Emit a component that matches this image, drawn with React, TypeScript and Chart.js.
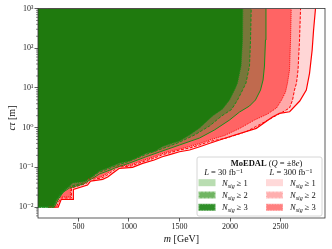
import React, { useEffect, useRef } from 'react';
import { Chart, registerables } from 'chart.js';

Chart.register(...registerables);

// ---- axes ----
const massMin = 100;
const massMax = 2940;
const ctauMin = 0.0053;
const ctauMax = 1000;
const massTicks = [500, 1000, 1500, 2000, 2500];
const ctauTicks = [0.01, 0.1, 1, 10, 100, 1000];
const ctauTickLabels = ['10⁻²', '10⁻¹', '10⁰', '10¹', '10²', '10³'];

// ---- L = 30 fb^-1 ----
const g3Mass = [100, 252, 282, 342, 391, 441, 559, 639, 708, 787, 906, 1005, 1074, 1173, 1252, 1332, 1431, 1500, 1599, 1698, 1827, 1926, 1995, 2054, 2074, 2109, 2124, 2127];
const g3Ctau = [0.01, 0.01, 0.015, 0.0225, 0.0301, 0.0403, 0.0439, 0.0587, 0.0807, 0.096, 0.128, 0.144, 0.172, 0.229, 0.25, 0.334, 0.409, 0.46, 0.651, 0.977, 1.958, 2.94, 4.96, 9.93, 13.3, 35.6, 161, 1000];

const g2Mass = [100, 252, 292, 342, 401, 540, 619, 698, 777, 876, 995, 1153, 1292, 1480, 1648, 1797, 1916, 2015, 2074, 2124, 2158, 2193, 2203, 2210];
const g2Ctau = [0.01, 0.01, 0.0169, 0.0253, 0.0319, 0.0403, 0.0537, 0.074, 0.0881, 0.111, 0.14, 0.204, 0.273, 0.409, 0.651, 1.097, 1.958, 2.86, 4.96, 8.85, 13.3, 35.6, 161, 1000];

const g1Mass = [100, 262, 302, 351, 411, 549, 629, 708, 787, 886, 1005, 1163, 1302, 1500, 1698, 1846, 1995, 2094, 2193, 2252, 2302, 2327, 2341, 2351, 2356];
const g1Ctau = [0.01, 0.01, 0.0159, 0.0239, 0.0301, 0.038, 0.0507, 0.0678, 0.0807, 0.1019, 0.128, 0.182, 0.243, 0.365, 0.547, 0.871, 1.552, 2.47, 3.5, 4.96, 8.85, 15.8, 35.6, 161, 1000];

// ---- L = 300 fb^-1 ----
const r3Mass = [200, 272, 312, 421, 421, 569, 599, 718, 767, 837, 886, 1015, 1114, 1233, 1312, 1401, 1500, 1599, 1698, 1797, 1945, 2094, 2242, 2371, 2460, 2510, 2549, 2569, 2589, 2599, 2606];
const r3Ctau = [0.01, 0.0106, 0.0179, 0.0179, 0.0319, 0.0414, 0.0522, 0.057, 0.0659, 0.0881, 0.108, 0.114, 0.144, 0.177, 0.216, 0.25, 0.289, 0.334, 0.397, 0.487, 0.633, 0.949, 1.552, 2.2, 3.12, 4.96, 7.89, 13.3, 28.2, 161, 1000];

const r2Mass = [200, 282, 322, 431, 431, 579, 609, 728, 777, 846, 896, 1025, 1124, 1242, 1322, 1411, 1500, 1599, 1698, 1797, 1965, 2163, 2341, 2520, 2589, 2619, 2638, 2658, 2673, 2688, 2698];
const r2Ctau = [0.01, 0.01, 0.0169, 0.0169, 0.0301, 0.0391, 0.0493, 0.0537, 0.0621, 0.083, 0.1019, 0.108, 0.136, 0.167, 0.204, 0.236, 0.273, 0.306, 0.365, 0.447, 0.547, 0.798, 1.383, 2.47, 3.12, 4.96, 8.85, 13.3, 28.2, 161, 1000];

const r1Mass = [200, 300, 330, 450, 450, 590, 620, 740, 790, 855, 905, 1035, 1135, 1250, 1330, 1420, 1500, 1600, 1700, 1800, 1995, 2260, 2420, 2490, 2590, 2690, 2755, 2787, 2813, 2827, 2846];
const r1Ctau = [0.01, 0.01, 0.0156, 0.0156, 0.0279, 0.0358, 0.0452, 0.0499, 0.057, 0.0762, 0.0944, 0.1, 0.126, 0.153, 0.185, 0.216, 0.247, 0.273, 0.33, 0.403, 0.59, 0.96, 1.85, 2.29, 2.51, 4.68, 8.85, 23.3, 90, 287, 1000];

const lumiLabels = ['L = 30 fb⁻¹', 'L = 300 fb⁻¹'];
const nsigLabels = ['1', '2', '3'];

const SERIF = "'Liberation Serif', 'DejaVu Serif', serif";
const GREEN_LINE = '#1a8c1a';
const RED_LINE = '#ff0000';

type Part = { t: string; f: string; dy?: number };

function richWidth(ctx: CanvasRenderingContext2D, parts: Part[]) {
  let w = 0;
  for (const p of parts) {
    ctx.font = p.f;
    w += ctx.measureText(p.t).width;
  }
  return w;
}

function drawRich(ctx: CanvasRenderingContext2D, parts: Part[], x: number, y: number, align: 'left' | 'center') {
  const w = richWidth(ctx, parts);
  let cx = align === 'center' ? x - w / 2 : x;
  ctx.textAlign = 'left';
  ctx.textBaseline = 'alphabetic';
  for (const p of parts) {
    ctx.font = p.f;
    ctx.fillText(p.t, cx, y + (p.dy || 0));
    cx += ctx.measureText(p.t).width;
  }
}

const decorPlugin = {
  id: 'decor',
  afterDraw(chart: any) {
    const { ctx, chartArea: a, scales } = chart;
    const y = scales.y;
    ctx.save();
    // frame
    ctx.strokeStyle = '#333';
    ctx.lineWidth = 0.8;
    ctx.strokeRect(a.left, a.top, a.right - a.left, a.bottom - a.top);
    // minor log ticks
    ctx.lineWidth = 0.6;
    ctx.beginPath();
    for (let d = -3; d <= 3; d++) {
      for (let k = 2; k <= 9; k++) {
        const v = k * Math.pow(10, d);
        if (v < ctauMin || v > ctauMax) continue;
        const py = y.getPixelForValue(v);
        ctx.moveTo(a.left - 2, py);
        ctx.lineTo(a.left, py);
      }
    }
    ctx.stroke();

    // axis titles
    ctx.fillStyle = '#111';
    drawRich(ctx, [
      { t: 'm', f: `italic 10px ${SERIF}` },
      { t: ' [GeV]', f: `10px ${SERIF}` },
    ], (a.left + a.right) / 2, 242, 'center');
    ctx.save();
    ctx.translate(15, 118);
    ctx.rotate(-Math.PI / 2);
    drawRich(ctx, [
      { t: 'cτ', f: `italic 10px ${SERIF}` },
      { t: ' [m]', f: `10px ${SERIF}` },
    ], 0, 0, 'center');
    ctx.restore();

    // legend
    const bx = 197, by = 157, bw = 125, bh = 59;
    ctx.fillStyle = 'rgba(255,255,255,0.85)';
    ctx.strokeStyle = '#cccccc';
    ctx.lineWidth = 0.8;
    ctx.beginPath();
    (ctx as any).roundRect ? (ctx as any).roundRect(bx, by, bw, bh, 2) : ctx.rect(bx, by, bw, bh);
    ctx.fill();
    ctx.stroke();

    ctx.fillStyle = '#111';
    drawRich(ctx, [
      { t: 'MoEDAL', f: `bold 8.5px ${SERIF}` },
      { t: ' (', f: `8.5px ${SERIF}` },
      { t: 'Q', f: `italic 8.5px ${SERIF}` },
      { t: ' = ±8', f: `8.5px ${SERIF}` },
      { t: 'e', f: `italic 8.5px ${SERIF}` },
      { t: ')', f: `8.5px ${SERIF}` },
    ], 266.5, 166, 'center');

    const lumParts = (s: string): Part[] => [
      { t: 'L', f: `italic 8.5px ${SERIF}` },
      { t: s.slice(1), f: `8.5px ${SERIF}` },
    ];
    drawRich(ctx, lumParts(lumiLabels[0]), 223.5, 174.5, 'center');
    drawRich(ctx, lumParts(lumiLabels[1]), 291, 174.5, 'center');

    const patchFill = [
      ['#b9ddb1', '#70b562', '#2f8f29'],
      ['#ffd9d9', '#ffafaf', '#ff8080'],
    ];
    const dashes = [[], [2.5, 1.2], [0.8, 0.8]];
    const colX = [198.5, 266];
    const textX = [222, 290];
    const rowY = [182.7, 195, 207.3];
    for (let c = 0; c < 2; c++) {
      for (let r = 0; r < 3; r++) {
        const px = colX[c], py = rowY[r] - 3.5;
        ctx.fillStyle = patchFill[c][r];
        ctx.fillRect(px, py, 17, 7);
        if (r > 0) {
          ctx.save();
          ctx.strokeStyle = 'rgba(255,255,255,0.6)';
          ctx.lineWidth = 0.8;
          ctx.setLineDash(dashes[r]);
          ctx.strokeRect(px + 0.4, py + 0.4, 16.2, 6.2);
          ctx.restore();
        }
        ctx.fillStyle = '#111';
        drawRich(ctx, [
          { t: 'N', f: `italic 8.5px ${SERIF}` },
          { t: 'sig', f: `italic 6px ${SERIF}`, dy: 1.8 },
          { t: ' ≥ ' + nsigLabels[r], f: `8.5px ${SERIF}` },
        ], textX[c], rowY[r] + 3, 'left');
      }
    }
    ctx.restore();
  },
};

const pts = (m: number[], c: number[]) => m.map((v, i) => ({ x: v, y: c[i] }));

export default function App() {
  const ref = useRef<HTMLCanvasElement | null>(null);
  useEffect(() => {
    document.body.style.margin = '0';
    if (!ref.current) return;
    const base = { fill: 'end', pointRadius: 0, borderWidth: 1, tension: 0 };
    const chart = new Chart(ref.current, {
      type: 'line',
      data: {
        datasets: [
          { ...base, label: '30 fb⁻¹, N ≥ 3', data: pts(g3Mass, g3Ctau), borderColor: GREEN_LINE, borderDash: [1, 1], backgroundColor: '#1f7a0e' },
          { ...base, label: '30 fb⁻¹, N ≥ 2', data: pts(g2Mass, g2Ctau), borderColor: GREEN_LINE, borderDash: [3, 1.5], backgroundColor: '#78763a' },
          { ...base, label: '30 fb⁻¹, N ≥ 1', data: pts(g1Mass, g1Ctau), borderColor: GREEN_LINE, backgroundColor: '#c06a4e' },
          { ...base, label: '300 fb⁻¹, N ≥ 3', data: pts(r3Mass, r3Ctau), borderColor: RED_LINE, borderDash: [1, 1], backgroundColor: '#ff6464' },
          { ...base, label: '300 fb⁻¹, N ≥ 2', data: pts(r2Mass, r2Ctau), borderColor: RED_LINE, borderDash: [3, 1.5], backgroundColor: '#ffa9a9' },
          { ...base, label: '300 fb⁻¹, N ≥ 1', data: pts(r1Mass, r1Ctau), borderColor: RED_LINE, borderWidth: 1.2, backgroundColor: '#ffd6d6' },
        ] as any,
      },
      options: {
        responsive: false,
        animation: false,
        layout: { padding: { left: 0, right: 7, top: 8.5, bottom: 0 } },
        plugins: {
          legend: { display: false },
          tooltip: { enabled: false },
          filler: { drawTime: 'beforeDatasetsDraw' } as any,
        },
        scales: {
          x: {
            type: 'linear',
            min: massMin,
            max: massMax,
            afterBuildTicks: (s: any) => { s.ticks = massTicks.map((v) => ({ value: v })); },
            afterFit: (s: any) => { s.height = 31; },
            ticks: {
              color: '#222',
              font: { family: SERIF, size: 8 },
              padding: 1,
              maxRotation: 0,
              autoSkip: false,
              callback: (v: any) => String(v),
            },
            grid: { display: true, drawOnChartArea: false, drawTicks: true, tickLength: 3.5, tickWidth: 0.8, tickColor: '#333' },
            border: { display: false },
          },
          y: {
            type: 'logarithmic',
            min: ctauMin,
            max: ctauMax,
            afterBuildTicks: (s: any) => { s.ticks = ctauTicks.map((v) => ({ value: v })); },
            afterFit: (s: any) => { s.width = 38; },
            ticks: {
              color: '#222',
              font: { family: SERIF, size: 8 },
              padding: 1,
              autoSkip: false,
              callback: (v: any) => {
                const i = ctauTicks.findIndex((t) => Math.abs(t - Number(v)) / t < 1e-6);
                return i >= 0 ? ctauTickLabels[i] : '';
              },
            },
            grid: { display: true, drawOnChartArea: false, drawTicks: true, tickLength: 3.5, tickWidth: 0.8, tickColor: '#333' },
            border: { display: false },
          },
        },
      } as any,
      plugins: [decorPlugin],
    });
    return () => chart.destroy();
  }, []);
  return (
    <div style={{ width: 332, height: 249 }}>
      <canvas ref={ref} width={332} height={249} style={{ display: 'block' }} />
    </div>
  );
}
